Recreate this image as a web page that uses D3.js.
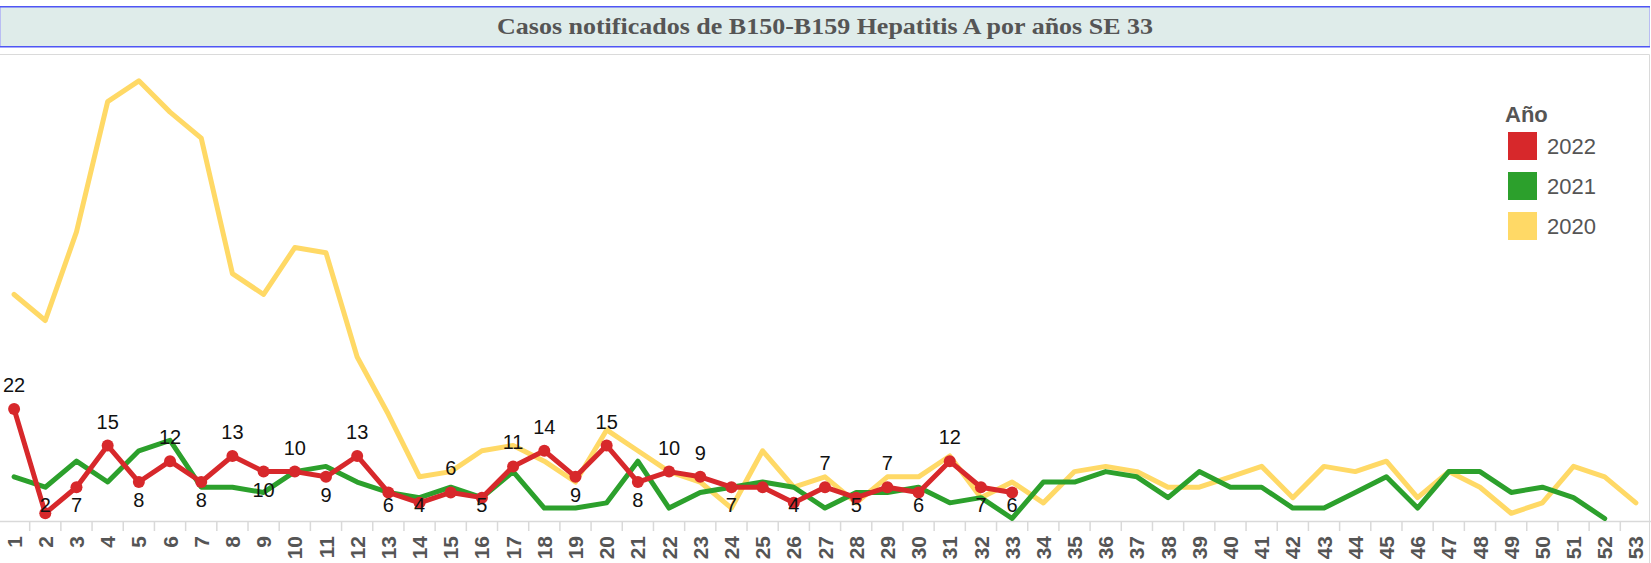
<!DOCTYPE html>
<html>
<head>
<meta charset="utf-8">
<script src="https://cdn.jsdelivr.net/npm/d3@7"></script>
<style>
    body { margin: 0; background: #ffffff; }
    svg { display: block; }
</style>
</head>
<body>
<script>
"use strict"

/* semanas epidemiológicas (categorías del eje x): */
const semanas = ["1", "2", "3", "4", "5", "6", "7", "8", "9", "10", "11", "12", "13", "14", "15", "16", "17", "18",
    "19", "20", "21", "22", "23", "24", "25", "26", "27", "28", "29", "30", "31", "32", "33", "34", "35", "36",
    "37", "38", "39", "40", "41", "42", "43", "44", "45", "46", "47", "48", "49", "50", "51", "52", "53"];

/* casos por semana, un array por año: */
const casos2022 = [22, 2, 7, 15, 8, 12, 8, 13, 10, 10, 9, 13, 6, 4, 6, 5, 11, 14, 9, 15, 8, 10, 9, 7, 7, 4, 7, 5, 7,
    6, 12, 7, 6];
const casos2021 = [9, 7, 12, 8, 14, 16, 7, 7, 6, 10, 11, 8, 6, 5, 7, 5, 10, 3, 3, 4, 12, 3, 6, 7, 8, 7, 3, 6, 6, 7,
    4, 5, 1, 8, 8, 10, 9, 5, 10, 7, 7, 3, 3, 6, 9, 3, 10, 10, 6, 7, 5, 1];
const casos2020 = [44, 39, 56, 81, 85, 79, 74, 48, 44, 53, 52, 32, 21, 9, 10, 14, 15, 12, 8, 18, 14, 10, 8, 3, 14, 7,
    9, 4, 9, 9, 13, 5, 8, 4, 10, 11, 10, 7, 7, 9, 11, 5, 11, 10, 12, 5, 10, 7, 2, 4, 11, 9, 4];

/* posición de la etiqueta de cada punto de 2022 ("a" arriba, "b" abajo, "" sin etiqueta): */
const posEtiquetas = ["a", "b", "b", "a", "b", "a", "b", "a", "b", "a", "b", "a", "b", "b", "a", "b", "a", "a", "b",
    "a", "b", "a", "a", "b", "", "b", "a", "b", "a", "b", "a", "b", "b"];

const anios = ["2022", "2021", "2020"];
const colores = ["#d7282b", "#2ca02c", "#ffd966"];

const titulo = "Casos notificados de B150-B159 Hepatitis A por años SE 33";

const grafico = { larghezza: 1651, altezza: 563 };

const svg = d3.select("body")
    .append("svg")
    .attr("width", grafico.larghezza)
    .attr("height", grafico.altezza);

/* barra del título */
svg.append("rect")
    .attr("x", 0.5).attr("y", 6.5)
    .attr("width", 1649).attr("height", 40)
    .attr("fill", "#dfecea")
    .attr("stroke", "#b9bdf3");
svg.append("line")
    .attr("x1", 0).attr("x2", 1650).attr("y1", 6.75).attr("y2", 6.75)
    .attr("stroke", "#4f55f5").attr("stroke-width", 1.5);
svg.append("line")
    .attr("x1", 0).attr("x2", 1650).attr("y1", 46.75).attr("y2", 46.75)
    .attr("stroke", "#4f55f5").attr("stroke-width", 1.5);
svg.append("text")
    .attr("x", 825).attr("y", 33.5)
    .attr("text-anchor", "middle")
    .attr("textLength", 656)
    .attr("lengthAdjust", "spacingAndGlyphs")
    .attr("fill", "#555555")
    .style("font", "bold 23px 'Liberation Serif', 'Times New Roman', serif")
    .text(titulo);

/* marco del área del gráfico */
svg.append("path")
    .attr("d", "M0,54.5H1649.5V563")
    .attr("fill", "none")
    .attr("stroke", "#dadada");

/* scale */
const x = d3.scaleBand()
    .domain(semanas)
    .range([-1.5, 1651.5]);
const y = d3.scaleLinear()
    .domain([0, 90])
    .range([523.7, 54.8]);

const xc = function (i) { return x(semanas[i]) + x.bandwidth() / 2 };

/* eje x */
const ejeX = svg.append("g")
    .attr("transform", "translate(0,521)")
    .call(d3.axisBottom(x).tickSize(0).tickPadding(0));
ejeX.select(".domain").attr("stroke", "#d9d9d9").attr("stroke-width", 1.5);
ejeX.selectAll(".tick text")
    .attr("transform", "translate(0,15) rotate(-90)")
    .attr("x", 0).attr("y", 0).attr("dy", "0.36em")
    .attr("text-anchor", "end")
    .attr("fill", "#555555")
    .style("font", "bold 21px 'Liberation Sans', Arial, sans-serif");
ejeX.selectAll(".separador")
    .data(semanas.slice(1))
    .enter()
    .append("line")
    .attr("class", "separador")
    .attr("x1", function (d) { return x(d) }).attr("x2", function (d) { return x(d) })
    .attr("y1", 0).attr("y2", 10)
    .attr("stroke", "#d9d9d9").attr("stroke-width", 1.5);

/* líneas: 2020 abajo, 2022 arriba */
const linea = d3.line()
    .x(function (d, i) { return xc(i) })
    .y(function (d) { return y(d) });

const series = [casos2020, casos2021, casos2022];
const coloriSerie = [colores[2], colores[1], colores[0]];
svg.selectAll(".serie")
    .data(series)
    .enter()
    .append("path")
    .attr("class", "serie")
    .attr("d", linea)
    .attr("fill", "none")
    .attr("stroke", function (d, i) { return coloriSerie[i] })
    .attr("stroke-width", 5)
    .attr("stroke-linejoin", "round")
    .attr("stroke-linecap", "round");

/* puntos de 2022 */
svg.selectAll(".punto")
    .data(casos2022)
    .enter()
    .append("circle")
    .attr("class", "punto")
    .attr("cx", function (d, i) { return xc(i) })
    .attr("cy", function (d) { return y(d) })
    .attr("r", 6)
    .attr("fill", colores[0]);

/* etiquetas de 2022: arriba 17px, abajo 25px (sin pasar del eje) */
casos2022.forEach(function (d, i) {
    if (posEtiquetas[i] == "") return;
    const yy = posEtiquetas[i] == "a" ? y(d) - 17 : Math.min(y(d) + 25, 512);
    svg.append("text")
        .attr("class", "etiqueta")
        .attr("x", xc(i))
        .attr("y", yy)
        .attr("text-anchor", "middle")
        .attr("fill", "#111111")
        .style("font", "20px 'Liberation Sans', Arial, sans-serif")
        .text(d);
});

/* leyenda */
const leyenda = svg.append("g").attr("transform", "translate(1505,0)");
leyenda.append("text")
    .attr("x", 0).attr("y", 121.5)
    .attr("fill", "#555555")
    .style("font", "bold 22px 'Liberation Sans', Arial, sans-serif")
    .text("Año");
const voci = leyenda.selectAll(".voce")
    .data(anios)
    .enter()
    .append("g")
    .attr("class", "voce")
    .attr("transform", function (d, i) { return "translate(0," + (132 + i * 40) + ")" });
voci.append("rect")
    .attr("x", 3).attr("y", 0)
    .attr("width", 29).attr("height", 28)
    .attr("fill", function (d, i) { return colores[i] });
voci.append("text")
    .attr("x", 42).attr("y", 22)
    .attr("fill", "#555555")
    .style("font", "22px 'Liberation Sans', Arial, sans-serif")
    .text(function (d) { return d });
</script>
</body>
</html>
